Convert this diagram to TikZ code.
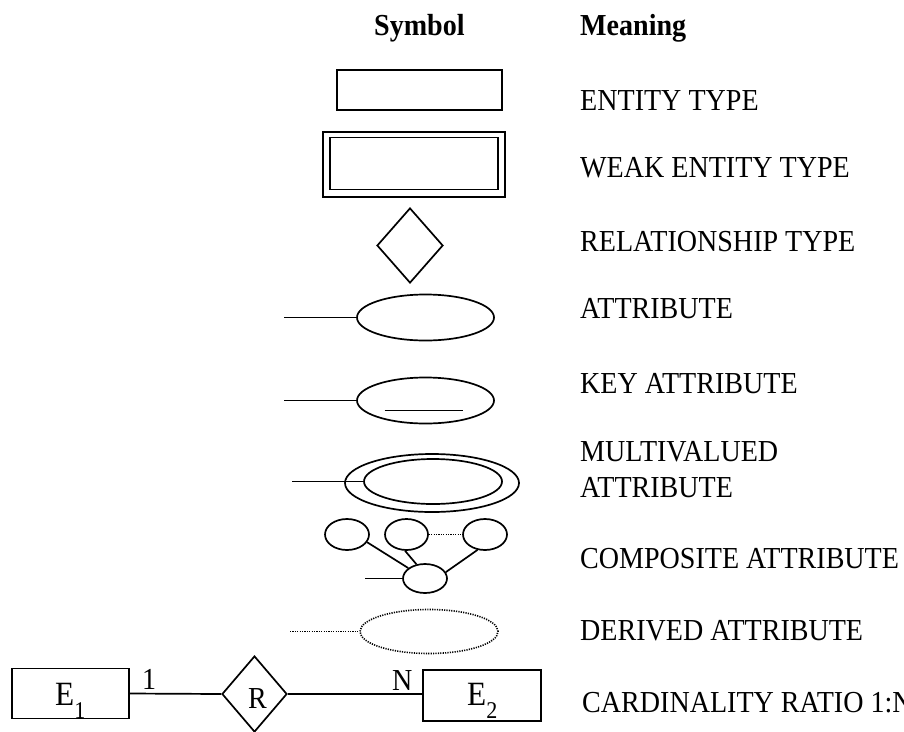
\documentclass[tikz,border=0pt]{standalone}
\usepackage{fontspec}
\setmainfont{Liberation Serif}[FakeStretch=0.92]
\usetikzlibrary{shapes.geometric}
\tikzset{
  ln/.style={line width=1.7pt},
  box/.style={draw, ln, rectangle, inner sep=0pt},
  ell/.style={draw, ln, ellipse, inner sep=0pt},
  dia/.style={draw, ln, diamond, inner sep=0pt},
  txt/.style={anchor=base west, inner sep=0pt, font=\fontsize{30.5}{32}\selectfont},
  hdr/.style={anchor=base west, inner sep=0pt, font=\fontsize{30.5}{32}\selectfont\bfseries},
  dots/.style={line width=1.6pt, dash pattern=on 1.2pt off 1.2pt},
}
\begin{document}
\begin{tikzpicture}[x=1pt,y=-1pt]
\useasboundingbox (0,0) rectangle (904,731);
% headers
\node[hdr] (hs) at (374,35) {Symbol};
\node[hdr] (hm) at (580,35) {Meaning};
% entity
\node[box, minimum width=165pt, minimum height=40pt] (ent) at (419.5,90) {};
\node[txt] (t1) at (580,110) {ENTITY TYPE};
% weak entity
\node[box, minimum width=182pt, minimum height=65pt] (wko) at (414,164.5) {};
\node[box, minimum width=168pt, minimum height=52pt] (wki) at (414,163.5) {};
\node[txt] (t2) at (580,177) {WEAK ENTITY TYPE};
% relationship
\node[dia, minimum width=66pt, minimum height=75pt] (rel) at (410,245.5) {};
\node[txt] (t3) at (580,251) {RELATIONSHIP TYPE};
% attribute
\node[ell, minimum width=137pt, minimum height=46pt] (att) at (425.5,317.5) {};
\coordinate (attl) at (284,317.5);
\draw[ln] (attl) -- (att.west);
\node[txt] (t4) at (580,318) {ATTRIBUTE};
% key attribute
\node[ell, minimum width=137pt, minimum height=46pt] (key) at (425.5,400.5) {};
\coordinate (keyl) at (284,400.5);
\draw[ln] (keyl) -- (key.west);
\draw[ln] (key.center) ++(-41,10) -- ++(78,0);
\node[txt] (t5) at (580,393) {KEY ATTRIBUTE};
% multivalued
\node[ell, minimum width=174pt, minimum height=58pt] (mvo) at (432,483) {};
\node[ell, minimum width=138pt, minimum height=45pt] (mvi) at (433,481.5) {};
\coordinate (mvl) at (292,481.5);
\draw[ln] (mvl) -- (mvi.west);
\node[txt] (t6) at (580,461) {MULTIVALUED};
\node[txt] (t6b) at (580,497) {ATTRIBUTE};
% composite
\node[ell, minimum width=44pt, minimum height=31pt] (c1) at (347,534.5) {};
\node[ell, minimum width=43pt, minimum height=31pt] (c2) at (406.5,534.5) {};
\node[ell, minimum width=44pt, minimum height=31pt] (c3) at (485,534.5) {};
\node[ell, minimum width=44pt, minimum height=29pt] (cb) at (425,578.5) {};
\coordinate (cbl) at (365,578.5);
\draw[ln] (cbl) -- (cb.west);
\draw[ln] (c1.-21) -- (cb.148);
\draw[ln] (c2.-95) -- (cb.121);
\draw[ln] (c3.244) -- (cb.17);
\draw[dots] (c2.east) -- (c3.west);
\node[txt] (t7) at (580,568) {COMPOSITE ATTRIBUTE};
% derived
\node[ell, dots, minimum width=138pt, minimum height=44pt] (der) at (429,631.5) {};
\coordinate (derl) at (290,631.5);
\draw[dots] (derl) -- (der.west);
\node[txt] (t8) at (580,640) {DERIVED ATTRIBUTE};
% cardinality
\node[box, minimum width=117pt, minimum height=50pt] (e1) at (70.5,693.5) {};
\node[anchor=base west, inner sep=0pt, font=\fontsize{34}{36}\selectfont] (e1t) at (55,705) {E\raisebox{-13pt}{\fontsize{24}{24}\selectfont 1}};
\node[dia, minimum width=65pt, minimum height=76pt] (r) at (254.5,694) {};
\node[anchor=base, inner sep=0pt, font=\fontsize{30.5}{32}\selectfont] (rt) at (257.5,708) {R};
\node[box, minimum width=118pt, minimum height=51pt] (e2) at (482,695.5) {};
\node[anchor=base west, inner sep=0pt, font=\fontsize{34}{36}\selectfont] (e2t) at (467,705) {E\raisebox{-13pt}{\fontsize{24}{24}\selectfont 2}};
\draw[ln] (e1.east) -- (r.west);
\draw[ln] (r.east) -- (e2.west |- r.east);
\node[txt] (l1) at (142,689) {1};
\node[txt] (lN) at (392,690) {N};
\node[txt] (t9) at (582,712) {CARDINALITY RATIO 1:N};
\end{tikzpicture}
\end{document}
